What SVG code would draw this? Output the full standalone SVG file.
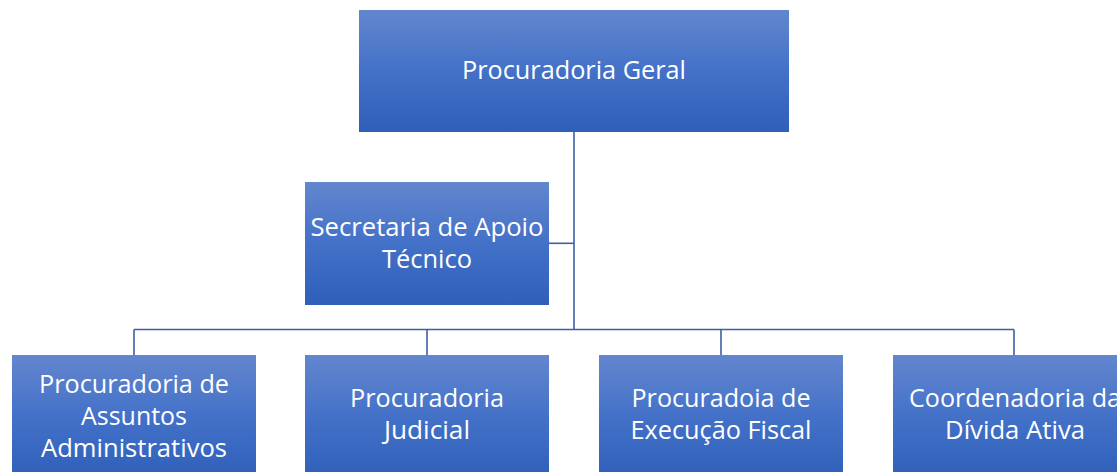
<svg xmlns="http://www.w3.org/2000/svg" width="1117" height="472" viewBox="0 0 1117 472">
  <defs>
    <linearGradient id="g" x1="0" y1="0" x2="0" y2="1">
      <stop offset="0" stop-color="#6386ce"/>
      <stop offset="0.5" stop-color="#4371c8"/>
      <stop offset="1" stop-color="#2f5fb9"/>
    </linearGradient>
    <style>
      .box { fill: url(#g); }
      .lbl { font-family: "Open Sans", "Liberation Sans", sans-serif; font-size: 25.5px; fill: #ffffff; text-anchor: middle; }
      .con { stroke: #3b5fa9; stroke-width: 1.6; fill: none; }
    </style>
  </defs>
  <rect width="1117" height="472" fill="#ffffff"/>
  <g id="connectors">
    <path class="con" d="M574 132 V329.5"/>
    <path class="con" d="M549 243.3 H574"/>
    <path class="con" d="M134 329.5 H1014"/>
    <path class="con" d="M134 329.5 V355 M427 329.5 V355 M721 329.5 V355 M1014 329.5 V355"/>
  </g>
  <g id="procuradoria-geral">
    <rect class="box" x="359" y="10" width="430" height="122"/>
    <text class="lbl" x="574" y="79" textLength="224" lengthAdjust="spacingAndGlyphs">Procuradoria Geral</text>
  </g>
  <g id="secretaria">
    <rect class="box" x="305" y="182" width="244" height="123"/>
    <text class="lbl" x="427" y="236" textLength="233" lengthAdjust="spacingAndGlyphs">Secretaria de Apoio</text>
    <text class="lbl" x="427" y="268" textLength="90" lengthAdjust="spacingAndGlyphs">Técnico</text>
  </g>
  <g id="assuntos-administrativos">
    <rect class="box" x="12" y="355" width="244" height="125"/>
    <text class="lbl" x="134" y="393" textLength="190" lengthAdjust="spacingAndGlyphs">Procuradoria de</text>
    <text class="lbl" x="134" y="425" textLength="106" lengthAdjust="spacingAndGlyphs">Assuntos</text>
    <text class="lbl" x="134" y="457" textLength="186" lengthAdjust="spacingAndGlyphs">Administrativos</text>
  </g>
  <g id="judicial">
    <rect class="box" x="305" y="355" width="244" height="125"/>
    <text class="lbl" x="427" y="407" textLength="154" lengthAdjust="spacingAndGlyphs">Procuradoria</text>
    <text class="lbl" x="427" y="439" textLength="86" lengthAdjust="spacingAndGlyphs">Judicial</text>
  </g>
  <g id="execucao-fiscal">
    <rect class="box" x="599" y="355" width="244" height="125"/>
    <text class="lbl" x="721" y="407" textLength="179" lengthAdjust="spacingAndGlyphs">Procuradoia de</text>
    <text class="lbl" x="721" y="439" textLength="181" lengthAdjust="spacingAndGlyphs">Execução Fiscal</text>
  </g>
  <g id="divida-ativa">
    <rect class="box" x="893" y="355" width="244" height="125"/>
    <text class="lbl" x="1015" y="407" textLength="212" lengthAdjust="spacingAndGlyphs">Coordenadoria da</text>
    <text class="lbl" x="1015" y="439" textLength="140" lengthAdjust="spacingAndGlyphs">Dívida Ativa</text>
  </g>
</svg>
